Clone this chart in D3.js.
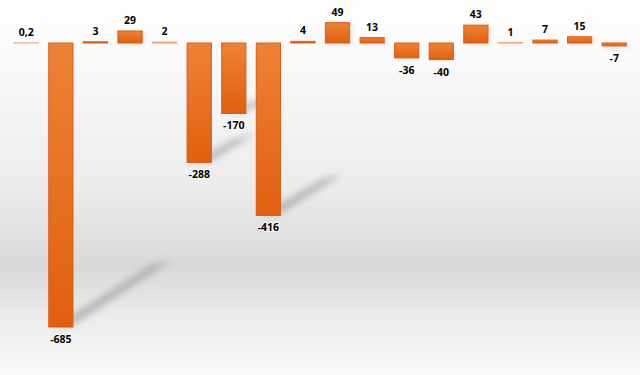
<!DOCTYPE html>
<html><head><meta charset="utf-8">
<script src="https://cdn.jsdelivr.net/npm/d3@7"></script>
<style>html,body{margin:0;padding:0;background:#fff;}svg{display:block;}</style>
</head><body>
<svg id="c" width="640" height="375"></svg>
<script>
const categories = ["c1","c2","c3","c4","c5","c6","c7","c8","c9","c10","c11","c12","c13","c14","c15","c16","c17","c18"];
const values = [0.2, -685, 3, 29, 2, -288, -170, -416, 4, 49, 13, -36, -40, 43, 1, 7, 15, -7];

const W = 640, H = 375;
const svg = d3.select("#c");
const defs = svg.append("defs");

const bg = defs.append("linearGradient").attr("id","bg").attr("x1",0).attr("y1",0).attr("x2",0).attr("y2",1);
[[0,"#ffffff"],[0.12,"#fbfbfb"],[0.5,"#ececec"],[0.71,"#d9d9d9"],[0.85,"#ececec"],[1,"#f9f9f9"]]
  .forEach(([o,c])=>bg.append("stop").attr("offset",o).attr("stop-color",c));
svg.append("rect").attr("width",W).attr("height",H).attr("fill","url(#bg)");

const barG = defs.append("linearGradient").attr("id","bar").attr("x1",0).attr("y1",0).attr("x2",0).attr("y2",1);
barG.append("stop").attr("offset",0).attr("stop-color","#ee8236");
barG.append("stop").attr("offset",1).attr("stop-color","#e0600f");

const blur = defs.append("filter").attr("id","blur").attr("x","-50%").attr("y","-50%").attr("width","200%").attr("height","200%");
blur.append("feGaussianBlur").attr("stdDeviation",3.5);
const glow = defs.append("filter").attr("id","glow").attr("x","-30%").attr("y","-30%").attr("width","160%").attr("height","160%");
glow.append("feGaussianBlur").attr("stdDeviation",2.5);

const x = d3.scaleBand().domain(categories).range([9, 631.5]).paddingInner(0.3).paddingOuter(0.15);
const y = d3.scaleLinear().domain([-685, 0]).range([327, 43]);

const sh = svg.append("g");
categories.forEach((c,i)=>{
  const v = values[i];
  if (v < 0) {
    const x0 = x(c), x1 = x(c)+x.bandwidth();
    const yb = y(v);
    const h = y(v) - y(0);
    const dx = h*0.33, dy = h*0.23;
    const pts = [[x0+4,yb],[x1,yb-2],[x1+dx+6,yb-dy-2],[x0+dx+8,yb-dy+4]];
    sh.append("path").attr("d","M"+pts.map(p=>p.join(",")).join("L")+"Z")
      .attr("fill","#8a8a8a").attr("opacity",0.55).attr("filter","url(#blur)");
  } else {
    sh.append("rect").attr("x",x(c)+2).attr("y",y(v)+2).attr("width",x.bandwidth()).attr("height",Math.max(1,y(0)-y(v)))
      .attr("fill","#999").attr("opacity",0.25).attr("filter","url(#glow)");
  }
});

svg.append("g").selectAll("rect").data(values).join("rect")
  .attr("x",(d,i)=>x(categories[i]))
  .attr("width",x.bandwidth())
  .attr("y",d=>y(Math.max(0,d)))
  .attr("height",d=>Math.abs(y(d)-y(0)))
  .attr("fill","url(#bar)")
  .attr("stroke",d=>Math.abs(d)<2.5 ? "#f0a070" : "#df5a12")
  .attr("stroke-width",1);

const fmt = v => (Number.isInteger(v) ? String(v) : d3.format(".1f")(v).replace(".",","));
svg.append("g").selectAll("text").data(values).join("text")
  .attr("x",(d,i)=>x(categories[i])+x.bandwidth()/2)
  .attr("y",d=> d>=0 ? y(d)-7 : y(d)+16)
  .attr("text-anchor","middle")
  .attr("font-family","'Open Sans', sans-serif")
  .attr("font-weight",700)
  .attr("font-size","10.5px")
  .attr("fill","#000")
  .attr("stroke","#fff").attr("stroke-width",2).attr("stroke-opacity",0.7)
  .attr("paint-order","stroke")
  .text(d=>fmt(d));
</script>
</body></html>
